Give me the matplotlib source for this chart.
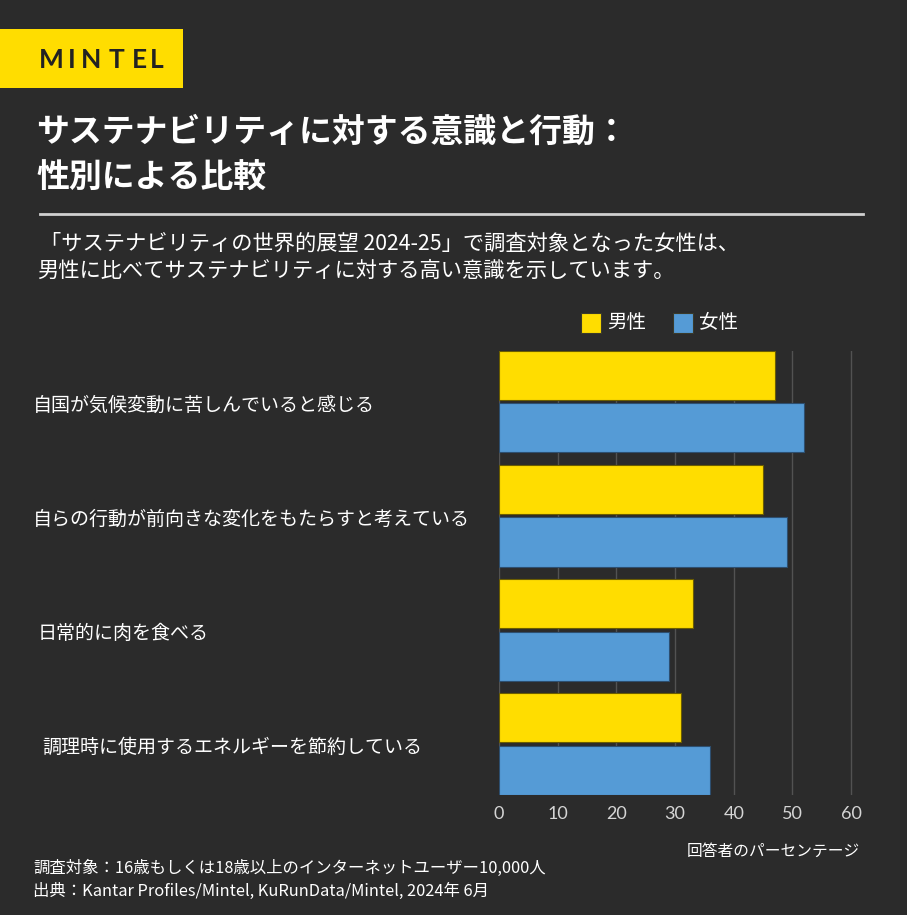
import matplotlib
matplotlib.use('Agg')
import matplotlib.pyplot as plt
from matplotlib.patches import Rectangle
import matplotlib.transforms as mtransforms

plt.rcParams['font.family'] = ['Noto Sans CJK JP', 'DejaVu Sans']

# data
categories = [
    '自国が気候変動に苦しんでいると感じる',
    '自らの行動が前向きな変化をもたらすと考えている',
    '日常的に肉を食べる',
    '調理時に使用するエネルギーを節約している',
]
male = [47, 45, 33, 31]
female = [52, 49, 29, 36]
series_names = ['男性', '女性']
xticks = [0, 10, 20, 30, 40, 50, 60]

logo = 'MINTEL'
title = 'サステナビリティに対する意識と行動：\n性別による比較'
subtitle_1 = '「サステナビリティの世界的展望 2024-25」で調査対象となった女性は、'
subtitle_2 = '男性に比べてサステナビリティに対する高い意識を示しています。'
axis_note = '回答者のパーセンテージ'
footer_1 = '調査対象：16歳もしくは18歳以上のインターネットユーザー10,000人'
footer_2 = '出典：Kantar Profiles/Mintel, KuRunData/Mintel, 2024年 6月'

BG = '#2b2b2b'
YELLOW = '#ffdd00'
BLUE = '#559bd6'
W, H = 907, 915

fig = plt.figure(figsize=(W / 100, H / 100), dpi=100, facecolor=BG)

def fx(px):
    return px / W

def fy(py):
    return 1 - py / H

# logo box, letters spaced out like the wordmark
fig.patches.append(Rectangle((0, fy(88)), fx(183), (88 - 29) / H,
                             transform=fig.transFigure, facecolor=YELLOW,
                             edgecolor='none'))
letter_x = [51, 72, 91.5, 116.5, 139, 157]
for ch, lx in zip(logo, letter_x):
    fig.text(fx(lx), fy(60), ch, fontsize=19, fontweight='bold',
             color='#222222', ha='center', va='center',
             family=['Lato', 'DejaVu Sans'])

# title
fig.text(fx(36), fy(155), title, fontsize=23.7, fontweight='bold',
         color='white', ha='left', va='center', linespacing=1.5)
fig.add_artist(plt.Line2D([fx(40), fx(863)], [fy(214), fy(214)],
                          transform=fig.transFigure, color='#d0d0d0', lw=2))
fig.text(fx(40), fy(244), subtitle_1, fontsize=15.3, color='white',
         ha='left', va='center')
fig.text(fx(37), fy(271), subtitle_2, fontsize=15.3, color='white',
         ha='left', va='center')

# legend
for sx, tx, col, name in [(581, 607, YELLOW, series_names[0]),
                          (673, 699, BLUE, series_names[1])]:
    fig.patches.append(Rectangle((fx(sx), fy(333)), fx(20), 20 / H,
                                 transform=fig.transFigure, facecolor=col,
                                 edgecolor='#3a3a2a', lw=0.8))
    fig.text(fx(tx), fy(323), name, fontsize=14, color='white',
             ha='left', va='center')

# chart
ax = fig.add_axes([fx(499), fy(795), fx(854 - 499), (795 - 350.7) / H])
ax.set_facecolor(BG)
off = 0.23
h = 0.43
pos = list(range(len(categories)))
ax.barh([p - off for p in pos], male, height=h, color=YELLOW,
        edgecolor='#6b5d00', linewidth=0.8, zorder=3)
ax.barh([p + off for p in pos], female, height=h, color=BLUE,
        edgecolor='#2d4f70', linewidth=0.8, zorder=3)
ax.set_ylim(len(categories) - 1 + 0.445, -0.445)
ax.set_xlim(0, 60.5)
ax.set_xticks(xticks)
ax.set_xticklabels([str(t) for t in xticks])
ax.tick_params(axis='x', length=0, pad=8, labelsize=13, labelcolor='#d5d5d5')
for lab in ax.get_xticklabels():
    lab.set_family(['Lato', 'DejaVu Sans'])
ax.set_yticks([])
ax.grid(axis='x', color='#525252', lw=1, zorder=0)
for s in ax.spines.values():
    s.set_visible(False)

# category labels at left
trans = mtransforms.blended_transform_factory(fig.transFigure, ax.transData)
label_x = [33, 33, 38, 42]
for i, cat in enumerate(categories):
    fig.text(fx(label_x[i]), i + 0.03, cat, transform=trans, fontsize=13.7,
             color='white', ha='left', va='center')

fig.text(fx(860), fy(851), axis_note, fontsize=11.3, color='white',
         ha='right', va='center')
fig.text(fx(33), fy(868), footer_1, fontsize=11.8, color='white',
         ha='left', va='center')
fig.text(fx(33), fy(891), footer_2, fontsize=11.8, color='white',
         ha='left', va='center')

fig.savefig('out.png', dpi=100, facecolor=BG)
